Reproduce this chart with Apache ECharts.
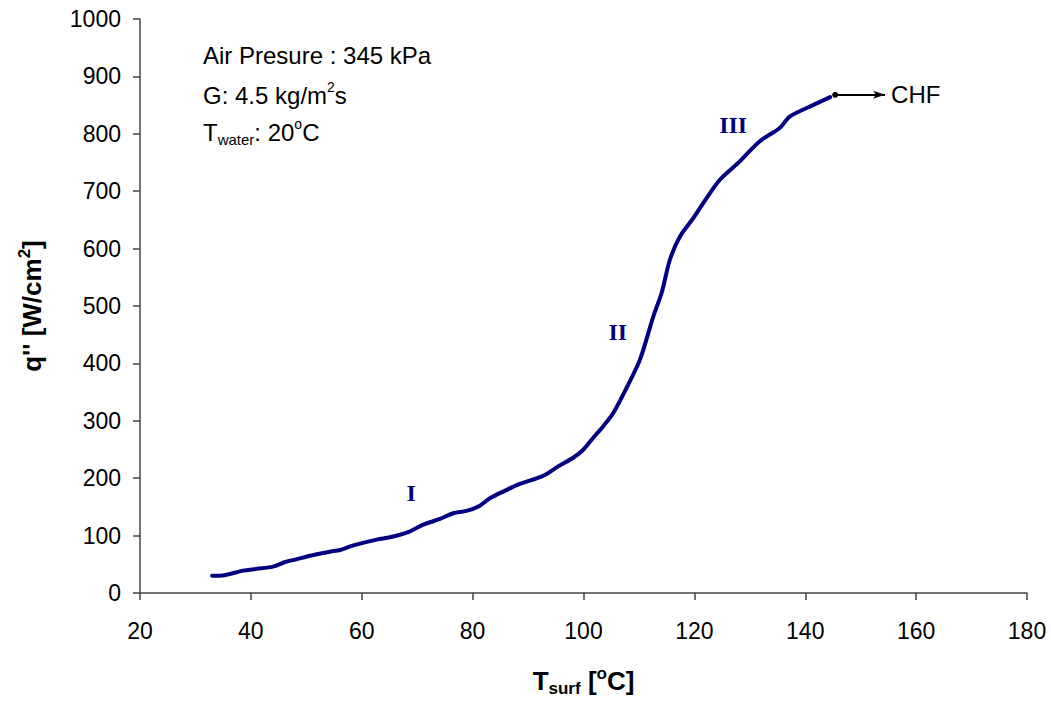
<!DOCTYPE html>
<html>
<head>
<meta charset="utf-8">
<script src="https://cdn.jsdelivr.net/npm/echarts@6/dist/echarts.min.js"></script>
<style>
html,body{margin:0;padding:0;background:#fff;}
#main{width:1051px;height:702px;}
</style>
</head>
<body>
<div id="main"></div>
<script>
// ---- data ----
const tSurf = [33.0, 34.4, 38.6, 41.0, 44.0, 46.2, 48.3, 50.7, 54.3, 56.1,
  58.5, 62.7, 65.1, 68.1, 71.1, 74.1, 76.5, 78.9, 81.3, 83.1,
  85.8, 88.5, 92.7, 95.5, 98.2, 100.0, 101.8, 103.6, 105.4, 107.8,
  110.2, 112.6, 114.1, 115.6, 117.4, 119.8, 122.2, 124.6, 128.2, 131.8,
  135.4, 137.2, 141.4, 144.5];
const heatFlux = [30, 30, 39, 42, 46, 54, 59, 65, 72, 75,
  83, 93, 97, 105, 119, 129, 139, 143, 152, 165,
  178, 190, 204, 221, 236, 250, 271, 291, 314, 358,
  407, 482, 523, 581, 621, 653, 688, 720, 752, 787,
  810, 830, 850, 864];
const regimeNames = ['I', 'II', 'III'];
const regimeX = [68.9, 106.2, 127.0];
const regimeY = [174, 454, 816];
const chfStart = [145.4, 868];
const chfEnd = [154.4, 868];
const chfLabel = 'CHF';
const xTicks = [20, 40, 60, 80, 100, 120, 140, 160, 180];
const yTicks = [0, 100, 200, 300, 400, 500, 600, 700, 800, 900, 1000];
const noteLines = ['Air Presure : 345 kPa', 'G: 4.5 kg/m{sup|2}s', 'T{sub|water}: 20{sup|o}C'];

const SANS = 'Liberation Sans, Arial, sans-serif';
const SERIF = 'Liberation Serif, Times New Roman, serif';
const NAVY = '#000080';

const chart = echarts.init(document.getElementById('main'), null, {renderer: 'svg'});

const curve = tSurf.map((t, i) => [t, heatFlux[i]]);
const regimes = regimeNames.map((n, i) => ({name: n, value: [regimeX[i], regimeY[i]]}));

const noteRich = {
  a: {fontSize: 24, fontFamily: SANS, color: '#000', lineHeight: 30},
  sup: {fontSize: 14, fontFamily: SANS, color: '#000', verticalAlign: 'top', lineHeight: 14},
  sub: {fontSize: 15, fontFamily: SANS, color: '#000', verticalAlign: 'bottom', lineHeight: 15}
};

function noteText(s) {
  const parts = s.split(/(\{[a-z]+\|[^}]*\})/).filter(p => p.length);
  return parts.map(p => p.startsWith('{') ? p : '{a|' + p + '}').join('');
}

const option = {
  backgroundColor: '#fff',
  animation: false,
  grid: {left: 140, right: 24, top: 19, bottom: 108, containLabel: false},
  xAxis: {
    type: 'value', min: xTicks[0], max: xTicks[xTicks.length - 1], interval: 20,
    splitLine: {show: false},
    axisLine: {show: true, onZero: false, lineStyle: {color: '#444', width: 1.5}},
    axisTick: {show: true, inside: false, length: 7, lineStyle: {color: '#444', width: 1.5}},
    axisLabel: {color: '#000', fontSize: 23, fontFamily: SANS, margin: 26, formatter: v => String(v)},
    name: '{b|T}{bs|surf}{b| [}{bsup|o}{b|C]}',
    nameLocation: 'middle', nameGap: 72,
    nameTextStyle: {
      rich: {
        b: {fontSize: 26, fontWeight: 'bold', fontFamily: SANS, color: '#000', lineHeight: 32},
        bs: {fontSize: 17, fontWeight: 'bold', fontFamily: SANS, color: '#000', verticalAlign: 'bottom', lineHeight: 16},
        bsup: {fontSize: 17, fontWeight: 'bold', fontFamily: SANS, color: '#000', verticalAlign: 'top', lineHeight: 16}
      }
    }
  },
  yAxis: {
    type: 'value', min: yTicks[0], max: yTicks[yTicks.length - 1], interval: 100,
    splitLine: {show: false},
    axisLine: {show: true, lineStyle: {color: '#444', width: 1.5}},
    axisTick: {show: true, inside: false, length: 7, lineStyle: {color: '#444', width: 1.5}},
    axisLabel: {color: '#000', fontSize: 23, fontFamily: SANS, margin: 19, formatter: v => String(v)},
    name: "{b|q'' [W/cm}{bsup|2}{b|]}",
    nameLocation: 'middle', nameGap: 92, nameRotate: 90,
    nameTextStyle: {
      rich: {
        b: {fontSize: 26, fontWeight: 'bold', fontFamily: SANS, color: '#000', lineHeight: 32},
        bsup: {fontSize: 17, fontWeight: 'bold', fontFamily: SANS, color: '#000', verticalAlign: 'top', lineHeight: 16}
      }
    }
  },
  graphic: noteLines.map((s, i) => ({
    type: 'text', left: 203, top: 43 + i * 37,
    style: {text: noteText(s), rich: noteRich, fill: '#000'}
  })),
  series: [
    {
      type: 'line', data: curve, smooth: 0.3, showSymbol: false,
      lineStyle: {color: NAVY, width: 4, cap: 'round', join: 'round'},
      itemStyle: {color: NAVY},
      markLine: {
        silent: true, animation: false,
        symbol: ['circle', 'arrow'], symbolSize: [6, 12],
        lineStyle: {color: '#000', width: 2, type: 'solid'},
        label: {show: true, position: 'end', formatter: chfLabel, color: '#000', fontSize: 24, fontFamily: SANS, distance: 6},
        data: [[{coord: chfStart}, {coord: chfEnd}]]
      }
    },
    {
      type: 'scatter', data: regimes, symbolSize: 0, silent: true,
      itemStyle: {opacity: 1, color: NAVY},
      label: {show: true, position: 'inside', formatter: p => p.name, color: NAVY, opacity: 1,
        fontSize: 24, fontWeight: 'bold', fontFamily: SERIF}
    }
  ]
};
chart.setOption(option);
</script>
</body>
</html>
